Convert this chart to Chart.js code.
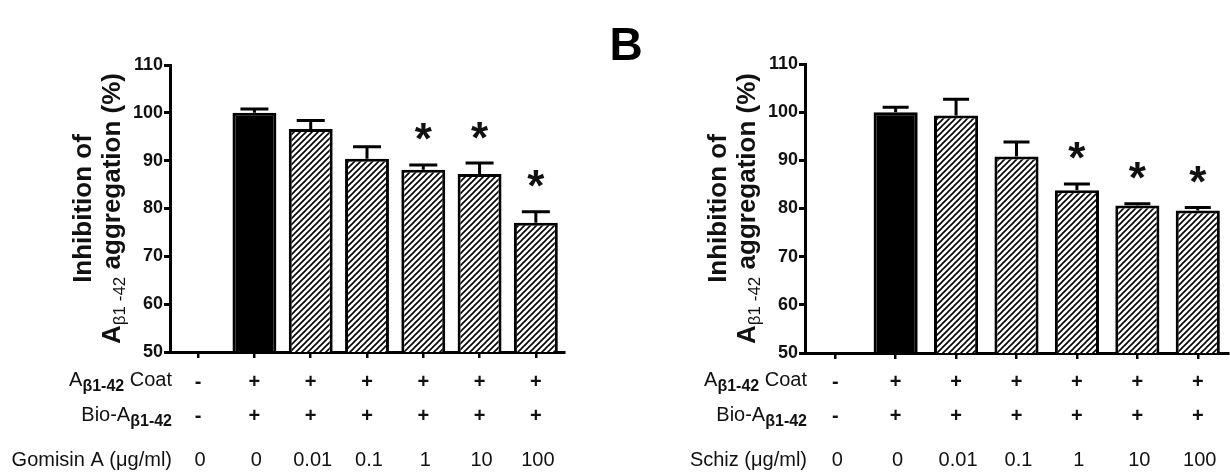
<!DOCTYPE html>
<html><head><meta charset="utf-8">
<script src="https://cdn.jsdelivr.net/npm/chart.js@4.4.1/dist/chart.umd.min.js"></script>
<style>
html,body{margin:0;padding:0;background:#fff;width:1230px;height:472px;overflow:hidden}
#cl{position:absolute;left:0;top:0}
#cr{position:absolute;left:600px;top:0}
</style></head><body>
<canvas id="cl" width="600" height="472"></canvas>
<canvas id="cr" width="630" height="472"></canvas>
<script>
// ---- data ----
const doses = ['0', '0', '0.01', '0.1', '1', '10', '100'];
const coatRow = ['-', '+', '+', '+', '+', '+', '+'];
const bioRow = ['-', '+', '+', '+', '+', '+', '+'];
const gomisinMean = [null, 100, 96.6, 90.4, 88.1, 87.2, 77.0];
const gomisinSem = [null, 0.8, 1.8, 2.5, 1.0, 2.3, 2.3];
const gomisinSig = [0, 0, 0, 0, 1, 1, 1];
const schizMean = [null, 100, 99.3, 90.8, 83.8, 80.6, 79.6];
const schizSem = [null, 1.0, 3.4, 3.0, 1.3, 0.4, 0.6];
const schizSig = [0, 0, 0, 0, 1, 1, 1];
const yTicks = [50, 60, 70, 80, 90, 100, 110];
const yTitle1 = 'Inhibition of';
const panelLetter = 'B';

const F = "'Liberation Sans', Arial, Helvetica, sans-serif";
const INK = '#111';

function makeHatch() {
  const s = 6;
  const c = document.createElement('canvas');
  c.width = s; c.height = s;
  const g = c.getContext('2d');
  g.fillStyle = '#fff'; g.fillRect(0, 0, s, s);
  g.strokeStyle = '#000'; g.lineWidth = 1.6;
  g.beginPath();
  g.moveTo(-1, s + 1); g.lineTo(s + 1, -1);
  g.moveTo(-1, 1); g.lineTo(1, -1);
  g.moveTo(s - 1, s + 1); g.lineTo(s + 1, s - 1);
  g.stroke();
  return c;
}

function drawRich(ctx, parts, x, y, align) {
  let w = 0;
  parts.forEach(p => { ctx.font = p.f; p.w = ctx.measureText(p.t).width; w += p.w; });
  let cx = align === 'right' ? x - w : (align === 'center' ? x - w / 2 : x);
  ctx.textAlign = 'left';
  ctx.textBaseline = 'middle';
  parts.forEach(p => { ctx.font = p.f; ctx.fillText(p.t, cx, y + (p.dy || 0)); cx += p.w; });
}

function makeChart(id, cfg) {
  const ctxEl = document.getElementById(id);
  const hatch = ctxEl.getContext('2d').createPattern(makeHatch(), 'repeat');
  const colors = cfg.mean.map((v, i) => i === 1 ? '#000' : hatch);

  const overlay = {
    id: 'overlay' + id,
    afterDatasetsDraw(chart) {
      const ctx = chart.ctx, ys = chart.scales.y;
      const meta = chart.getDatasetMeta(0);
      ctx.save();
      ctx.strokeStyle = '#000'; ctx.fillStyle = INK; ctx.lineWidth = 3;
      meta.data.forEach((bar, i) => {
        if (cfg.mean[i] == null) return;
        const x = bar.x;
        const y0 = ys.getPixelForValue(cfg.mean[i]);
        const y1 = ys.getPixelForValue(cfg.mean[i] + cfg.sem[i]);
        ctx.beginPath();
        ctx.moveTo(x, y0); ctx.lineTo(x, y1);
        ctx.moveTo(x - cfg.cap / 2, y1); ctx.lineTo(x + cfg.cap / 2, y1);
        ctx.stroke();
        if (cfg.sig[i]) {
          ctx.font = 'bold 44px ' + F;
          const m = ctx.measureText('*');
          const cy = y1 - 33;
          ctx.textAlign = 'center'; ctx.textBaseline = 'alphabetic';
          ctx.fillText('*', x, cy + (m.actualBoundingBoxAscent - m.actualBoundingBoxDescent) / 2);
        }
      });
      ctx.restore();
    },
    afterDraw(chart) {
      const ctx = chart.ctx, xs = chart.scales.x, a = chart.chartArea;
      ctx.save();
      ctx.fillStyle = INK;
      const L = a.left + 2;
      drawRich(ctx, [{t: 'A', f: '20px ' + F}, {t: 'β1-42', f: 'bold 16px ' + F, dy: 7}, {t: ' Coat', f: '20px ' + F}], L, 380, 'right');
      drawRich(ctx, [{t: 'Bio-A', f: '20px ' + F}, {t: 'β1-42', f: 'bold 16px ' + F, dy: 7}], L, 415, 'right');
      drawRich(ctx, [{t: cfg.doseTitle, f: '20px ' + F}], L, 460, 'right');
      doses.forEach((d, i) => {
        const x = xs.getPixelForValue(i);
        ctx.textAlign = 'center'; ctx.textBaseline = 'middle';
        ctx.font = 'bold 20px ' + F;
        ctx.fillText(coatRow[i], x, 382);
        ctx.fillText(bioRow[i], x, 416);
        ctx.font = '20px ' + F;
        ctx.fillText(d, x + 2, 460);
      });
      // y title (rotated)
      const cy = (a.top + a.bottom) / 2;
      ctx.save();
      ctx.translate(a.left - 86, cy);
      ctx.rotate(-Math.PI / 2);
      ctx.font = 'bold 26px ' + F;
      ctx.textAlign = 'center'; ctx.textBaseline = 'middle';
      ctx.fillText(yTitle1, 0, 0);
      ctx.restore();
      ctx.save();
      ctx.translate(a.left - 57, cy);
      ctx.rotate(-Math.PI / 2);
      drawRich(ctx, [{t: 'A', f: 'bold 26px ' + F}, {t: 'β1 -42', f: '17px ' + F, dy: 7}, {t: ' aggregation (%)', f: 'bold 26px ' + F}], 0, 0, 'center');
      ctx.restore();
      if (cfg.letter) {
        ctx.font = 'bold 46px ' + F;
        ctx.textAlign = 'center'; ctx.textBaseline = 'alphabetic';
        ctx.fillStyle = '#000';
        ctx.fillText(cfg.letter, cfg.letterX, 60);
      }
      ctx.restore();
    }
  };

  const chart = new Chart(ctxEl, {
    type: 'bar',
    data: {
      labels: doses,
      datasets: [{
        data: cfg.mean,
        backgroundColor: colors,
        borderColor: '#000',
        borderWidth: 3,
        borderSkipped: 'bottom',
        barPercentage: cfg.barPct,
        categoryPercentage: 1
      }]
    },
    options: {
      responsive: false,
      animation: false,
      events: [],
      layout: {padding: {left: 120, right: 30, top: 60, bottom: 110}},
      plugins: {legend: {display: false}, tooltip: {enabled: false}},
      scales: {
        x: {
          grid: {display: true, drawOnChartArea: false, offset: false, tickLength: 6, lineWidth: 2.5, color: '#000'},
          border: {display: true, width: 3, color: '#000'},
          ticks: {display: false},
          afterFit(s) { s.height = 8; }
        },
        y: {
          min: 50, max: 110,
          afterBuildTicks(s) { s.ticks = yTicks.map(v => ({value: v})); },
          grid: {drawOnChartArea: false, tickLength: 6, lineWidth: 3, color: '#000'},
          border: {display: true, width: 3, color: '#000'},
          ticks: {font: {family: F, size: 18, weight: 'bold'}, color: INK, padding: 1},
          afterFit(s) { s.width = 44; }
        }
      }
    },
    plugins: [overlay]
  });

  for (let k = 0; k < 3; k++) {
    const a = chart.chartArea;
    const p = chart.options.layout.padding;
    chart.options.layout.padding = {
      left: p.left + (cfg.target.left - a.left),
      right: p.right + (a.right - cfg.target.right),
      top: p.top + (cfg.target.top - a.top),
      bottom: p.bottom + (a.bottom - cfg.target.bottom)
    };
    chart.update('none');
  }
  return chart;
}

makeChart('cl', {
  mean: gomisinMean, sem: gomisinSem, sig: gomisinSig,
  doseTitle: 'Gomisin A (μg/ml)', barPct: 0.78, cap: 28,
  target: {left: 170, right: 564, top: 65, bottom: 352}
});
makeChart('cr', {
  mean: schizMean, sem: schizSem, sig: schizSig,
  doseTitle: 'Schiz (μg/ml)', barPct: 0.73, cap: 26,
  target: {left: 205, right: 628, top: 64, bottom: 353},
  letter: panelLetter, letterX: 26
});
</script>
</body></html>
